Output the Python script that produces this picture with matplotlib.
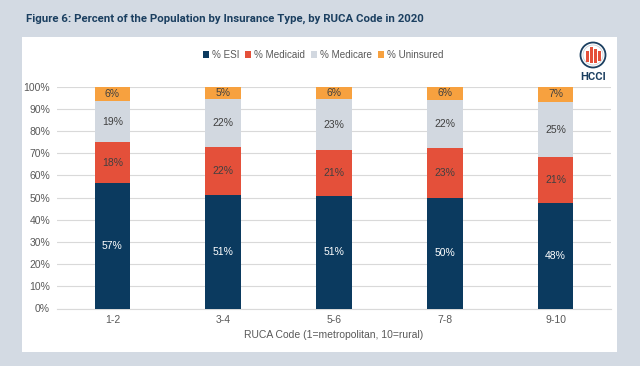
import matplotlib.pyplot as plt
import numpy as np
from matplotlib.patches import Circle, Rectangle

# Data (percent of population by insurance type)
categories = ["1-2", "3-4", "5-6", "7-8", "9-10"]
esi = [56.6, 51.2, 50.6, 49.6, 47.6]
medicaid = [18.4, 21.8, 20.8, 22.6, 20.6]
medicare = [18.6, 21.6, 23.0, 21.8, 24.8]
uninsured = [6.4, 5.4, 5.6, 6.0, 7.0]

series = [
    ("% ESI", esi, "#0b3a5f", "white"),
    ("% Medicaid", medicaid, "#e4503a", "#404040"),
    ("% Medicare", medicare, "#d2d8e0", "#404040"),
    ("% Uninsured", uninsured, "#f7a13f", "#404040"),
]

fig = plt.figure(figsize=(6.4, 3.66), dpi=100)
fig.patch.set_facecolor("#d3dae3")

# white panel behind the chart
fig.patches.append(Rectangle((22 / 640, 1 - 352 / 366), 595 / 640, 315 / 366,
                             transform=fig.transFigure, facecolor="white",
                             edgecolor="none", zorder=-5))

fig.text(26 / 640, 1 - 19 / 366,
         "Figure 6: Percent of the Population by Insurance Type, by RUCA Code in 2020",
         fontsize=8.2, fontweight="bold", color="#1b3f60", family="Roboto",
         va="center", ha="left")

ax = fig.add_axes([57 / 640, 1 - 308.5 / 366, 554 / 640, 221.8 / 366])
ax.set_facecolor("white")

x = np.arange(len(categories))
bottom = np.zeros(len(categories))
for name, vals, color, tcolor in series:
    vals = np.array(vals)
    ax.bar(x, vals, 0.32, bottom=bottom, color=color, label=name, zorder=3)
    for xi, b, v in zip(x, bottom, vals):
        ax.text(xi, b + v / 2, f"{v:.0f}%", ha="center", va="center",
                fontsize=7.5, color=tcolor, family="Liberation Sans", zorder=4)
    bottom += vals

ax.set_xlim(-0.5, len(categories) - 0.5)
ax.set_ylim(0, 100)
ax.set_yticks(np.arange(0, 101, 10))
ax.set_yticklabels([f"{t}%" for t in range(0, 101, 10)])
ax.set_xticks(x)
ax.set_xticklabels(categories)
ax.yaxis.grid(True, color="#d9d9d9", linewidth=0.8, zorder=0)
ax.set_axisbelow(True)
for s in ["top", "right", "left"]:
    ax.spines[s].set_visible(False)
ax.spines["bottom"].set_color("#d9d9d9")
ax.tick_params(length=0, labelsize=7.5, colors="#595959", pad=5)
for lbl in ax.get_xticklabels() + ax.get_yticklabels():
    lbl.set_family("Liberation Sans")
ax.set_xlabel("RUCA Code (1=metropolitan, 10=rural)", fontsize=7.5, color="#595959",
              family="Liberation Sans", labelpad=3)

leg = fig.legend(loc="center", bbox_to_anchor=(323 / 640, 1 - 55 / 366), ncol=4,
                 frameon=False, handlelength=0.6, handleheight=0.6,
                 handletextpad=0.3, columnspacing=0.6,
                 prop={"family": "Liberation Sans", "size": 7.1})
for t in leg.get_texts():
    t.set_color("#595959")

# HCCI logo
lx, ly = 593 / 640, 1 - 55 / 366
logo = fig.add_axes([lx - 15 / 640, ly - 15 / 366, 30 / 640, 30 / 366])
logo.set_xlim(-1.2, 1.2)
logo.set_ylim(-1.2, 1.2)
logo.set_aspect("equal")
logo.axis("off")
logo.add_patch(Circle((0, 0), 1.0, facecolor="white", edgecolor="#1b3f60", linewidth=1.3))
logo.add_patch(Circle((0, 0), 0.8, facecolor="white", edgecolor="#c8ced6", linewidth=0.6))
for bx, bb, bh in [(-0.6, -0.55, 0.9), (-0.28, -0.6, 1.25), (0.04, -0.6, 1.05), (0.36, -0.5, 0.85)]:
    logo.add_patch(Rectangle((bx, bb), 0.26, bh, facecolor="#e4503a", edgecolor="none"))
fig.text(lx, 1 - 77 / 366, "HCCI", fontsize=8, fontweight="bold", color="#1b3f60",
         family="Roboto", ha="center", va="center")

fig.savefig("out.png", dpi=100, facecolor=fig.get_facecolor())
